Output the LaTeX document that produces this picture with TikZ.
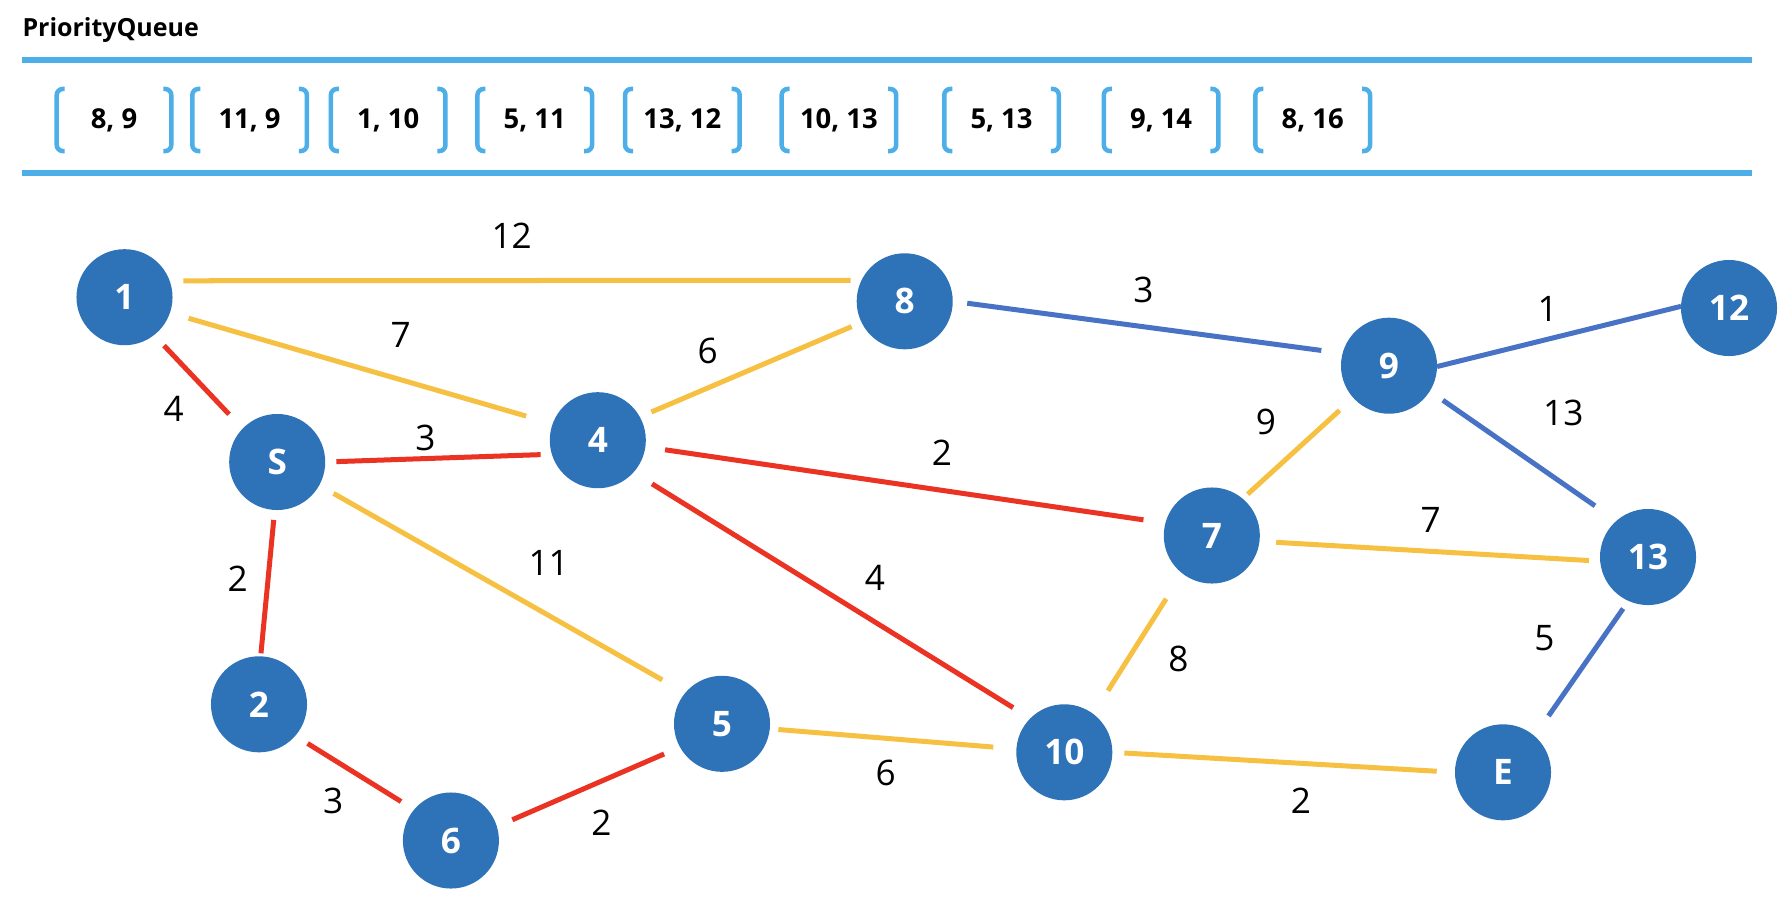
\documentclass[tikz,border=0pt]{standalone}
\usepackage{fontspec}
\setmainfont{Open Sans}
\usepackage{tikz}
\usetikzlibrary{positioning}
\definecolor{nodeblue}{RGB}{46,114,184}
\definecolor{edgeyellow}{RGB}{246,192,66}
\definecolor{edgered}{RGB}{234,51,35}
\definecolor{edgeblue}{RGB}{72,114,196}
\definecolor{queueblue}{RGB}{77,174,232}
\tikzstyle{vertex} = [circle, fill=nodeblue, minimum size=0.96cm, inner sep=0pt, outer sep=0pt, text=white, font=\fontsize{10}{12}\selectfont\bfseries]
\tikzstyle{weight} = [inner sep=0pt, font=\fontsize{10}{12}\selectfont]

\begin{document}
\begin{tikzpicture}[
    x=0.01cm, y=-0.01cm,
    yelline/.style={draw=edgeyellow, line width=0.05cm},
    redline/.style={draw=edgered, line width=0.05cm},
    blueline/.style={draw=edgeblue, line width=0.05cm},
    qitem/.style={minimum width=1.145cm, minimum height=0.62cm, inner sep=0pt, outer sep=0pt, font=\fontsize{7.8}{10}\selectfont\bfseries},
    qbrk/.style={draw=queueblue, line width=0.045cm, rounded corners=0.6mm},
    qline/.style={draw=queueblue, line width=0.055cm}
]
\useasboundingbox (0,0) rectangle (1792,906);

% Priority queue
\node (title) [anchor=base west, inner sep=0pt, font=\fontsize{7.1}{9}\selectfont\bfseries] at (21.8,36) {PriorityQueue};
\draw [qline] (22,60) -- (1752,60);
\draw [qline] (22,173) -- (1752,173);

\node (q1) [qitem] at (114,120) {8, 9};
\node (q2) [qitem, right=2.1mm of q1] {11, 9};
\node (q3) [qitem, right=2.4mm of q2] {1, 10};
\node (q4) [qitem, right=3.2mm of q3] {5, 11};
\node (q5) [qitem, right=3.3mm of q4] {13, 12};
\node (q6) [qitem, right=4.2mm of q5] {10, 13};
\node (q7) [qitem, right=4.8mm of q6] {5, 13};
\node (q8) [qitem, right=4.5mm of q7] {9, 14};
\node (q9) [qitem, right=3.7mm of q8] {8, 16};

\draw [qbrk] ([xshift=0.8mm]q1.north west) -- (q1.north west) -- (q1.south west) -- ([xshift=0.8mm]q1.south west) ([xshift=-0.8mm]q1.north east) -- (q1.north east) -- (q1.south east) -- ([xshift=-0.8mm]q1.south east);
\draw [qbrk] ([xshift=0.8mm]q2.north west) -- (q2.north west) -- (q2.south west) -- ([xshift=0.8mm]q2.south west) ([xshift=-0.8mm]q2.north east) -- (q2.north east) -- (q2.south east) -- ([xshift=-0.8mm]q2.south east);
\draw [qbrk] ([xshift=0.8mm]q3.north west) -- (q3.north west) -- (q3.south west) -- ([xshift=0.8mm]q3.south west) ([xshift=-0.8mm]q3.north east) -- (q3.north east) -- (q3.south east) -- ([xshift=-0.8mm]q3.south east);
\draw [qbrk] ([xshift=0.8mm]q4.north west) -- (q4.north west) -- (q4.south west) -- ([xshift=0.8mm]q4.south west) ([xshift=-0.8mm]q4.north east) -- (q4.north east) -- (q4.south east) -- ([xshift=-0.8mm]q4.south east);
\draw [qbrk] ([xshift=0.8mm]q5.north west) -- (q5.north west) -- (q5.south west) -- ([xshift=0.8mm]q5.south west) ([xshift=-0.8mm]q5.north east) -- (q5.north east) -- (q5.south east) -- ([xshift=-0.8mm]q5.south east);
\draw [qbrk] ([xshift=0.8mm]q6.north west) -- (q6.north west) -- (q6.south west) -- ([xshift=0.8mm]q6.south west) ([xshift=-0.8mm]q6.north east) -- (q6.north east) -- (q6.south east) -- ([xshift=-0.8mm]q6.south east);
\draw [qbrk] ([xshift=0.8mm]q7.north west) -- (q7.north west) -- (q7.south west) -- ([xshift=0.8mm]q7.south west) ([xshift=-0.8mm]q7.north east) -- (q7.north east) -- (q7.south east) -- ([xshift=-0.8mm]q7.south east);
\draw [qbrk] ([xshift=0.8mm]q8.north west) -- (q8.north west) -- (q8.south west) -- ([xshift=0.8mm]q8.south west) ([xshift=-0.8mm]q8.north east) -- (q8.north east) -- (q8.south east) -- ([xshift=-0.8mm]q8.south east);
\draw [qbrk] ([xshift=0.8mm]q9.north west) -- (q9.north west) -- (q9.south west) -- ([xshift=0.8mm]q9.south west) ([xshift=-0.8mm]q9.north east) -- (q9.north east) -- (q9.south east) -- ([xshift=-0.8mm]q9.south east);

% Vertices
\node (n1) [vertex] at (124.5,297.2) {1};
\node (n8) [vertex] at (904.7,301.3) {8};
\node (n12) [vertex] at (1729,308) {12};
\node (n9) [vertex] at (1389,365.7) {9};
\node (nS) [vertex] at (277.2,462) {S};
\node (n4) [vertex] at (597.8,440.2) {4};
\node (n7) [vertex] at (1211.8,535.5) {7};
\node (n13) [vertex] at (1648,557) {13};
\node (n2) [vertex] at (259,704.3) {2};
\node (n5) [vertex] at (722,723.8) {5};
\node (n10) [vertex] at (1064.3,752.3) {10};
\node (nE) [vertex] at (1503,772.3) {E};
\node (n6) [vertex] at (450.9,840.5) {6};

% Edges
\draw [yelline, shorten <=1.38mm, shorten >=1.09mm] (n1.20) -- (n8.154) node (w1) [weight] at (511.6,236) {12};
\draw [yelline, shorten <=1.94mm, shorten >=2.76mm] (n1.-19) -- (n4.160) node (w2) [weight] at (400.6,335) {7};
\draw [redline, shorten <=1.45mm, shorten >=1.98mm] (n1.-52) -- (nS.136) node (w3) [weight] at (173.7,409) {4};
\draw [redline, shorten <=1.11mm, shorten >=1.13mm] (nS.0) -- (n4.197) node (w4) [weight] at (425.5,438.3) {3};
\draw [redline, shorten <=1.0mm, shorten >=0.3mm] (nS.-93) -- (n2.88) node (w5) [weight] at (237.7,578.3) {2};
\draw [yelline, shorten <=1.65mm, shorten >=2.64mm] (nS.-29) -- (n5.140) node (w6) [weight] at (548.6,563.4) {11};
\draw [yelline, shorten <=1.26mm, shorten >=1.08mm] (n4.29) -- (n8.206) node (w7) [weight] at (707.7,351) {6};
\draw [redline, shorten <=1.99mm, shorten >=2.22mm] (n4.-8) -- (n7.165) node (w8) [weight] at (942,452.3) {2};
\draw [redline, shorten <=2.18mm, shorten >=2.03mm] (n4.-42) -- (n10.135) node (w9) [weight] at (875,577.7) {4};
\draw [blueline, shorten <=1.46mm, shorten >=2.15mm] (n8.0) -- (n9.165) node (w10) [weight] at (1143.3,290) {3};
\draw [blueline] (n9.-1) -- (n12.178) node (w11) [weight] at (1547.7,309.3) {1};
\draw [blueline, shorten <=1.59mm, shorten >=2.62mm] (n9.-32) -- (n13.131) node (w12) [weight] at (1563.3,412.7) {13};
\draw [yelline, shorten <=1.86mm, shorten >=0.68mm] (n9.222) -- (n7.50) node (w13) [weight] at (1266,421.7) {9};
\draw [yelline, shorten <=1.67mm, shorten >=1.13mm] (n7.-7) -- (n13.185) node (w14) [weight] at (1430.7,520) {7};
\draw [yelline, shorten <=3.01mm, shorten >=2.75mm] (n7.232) -- (n10.53) node (w15) [weight] at (1178.3,659.3) {8};
\draw [blueline, shorten <=0.94mm, shorten >=2.45mm] (n13.246) -- (nE.49) node (w16) [weight] at (1544.3,637.7) {5};
\draw [redline, shorten <=1.45mm, shorten >=1.54mm] (n2.-41) -- (n6.140) node (w17) [weight] at (333.2,801) {3};
\draw [redline, shorten <=1.69mm, shorten >=1.73mm] (n6.17) -- (n5.209) node (w18) [weight] at (601.3,822.7) {2};
\draw [yelline, shorten <=0.86mm, shorten >=2.32mm] (n5.-6) -- (n10.176) node (w19) [weight] at (885.7,773.3) {6};
\draw [yelline, shorten <=1.2mm, shorten >=1.83mm] (n10.0) -- (nE.180) node (w20) [weight] at (1301,801) {2};

\end{tikzpicture}
\end{document}
